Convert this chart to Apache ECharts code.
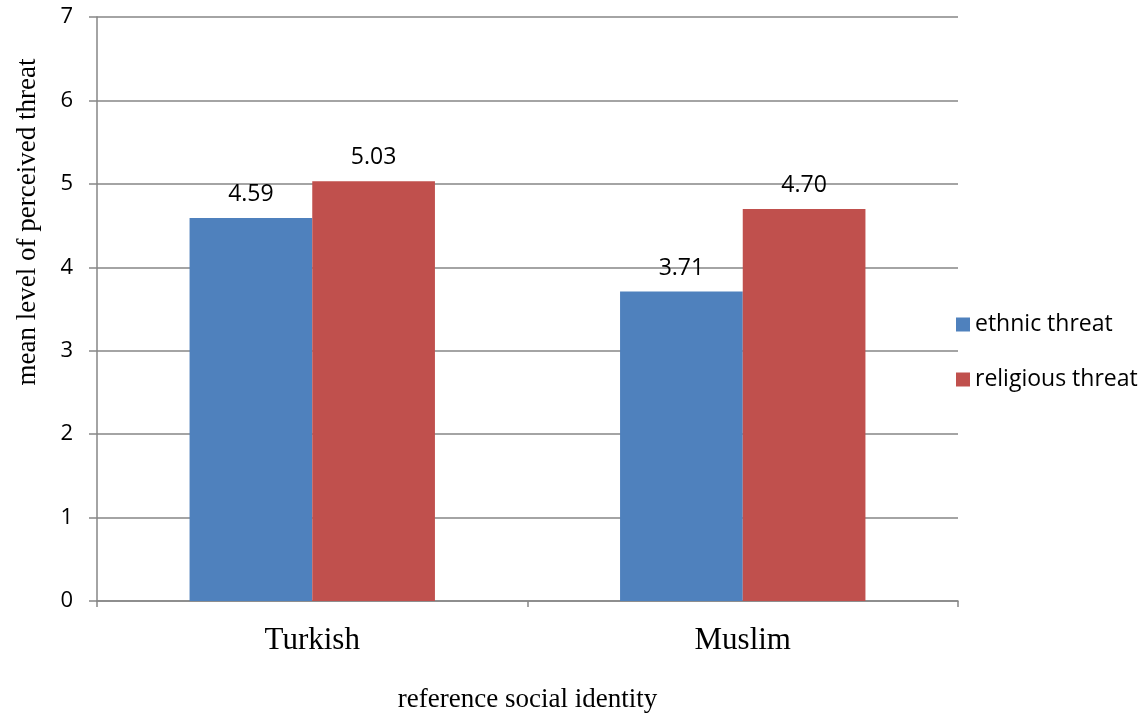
<!DOCTYPE html>
<html>
<head>
<meta charset="utf-8">
<script src="https://cdn.jsdelivr.net/npm/echarts@6/dist/echarts.min.js"></script>
<style>
  html, body { margin: 0; padding: 0; background: #fff; }
  #chart { width: 1148px; height: 717px; }
</style>
</head>
<body>
<div id="chart"></div>
<script>
// Mean perceived threat by reference social identity
const categories = ['Turkish', 'Muslim'];
const ethnicThreat = [4.59, 3.71];
const religiousThreat = [5.03, 4.70];
const yTicks = [0, 1, 2, 3, 4, 5, 6, 7];

const chart = echarts.init(document.getElementById('chart'));
const labelStyle = {
  show: true,
  position: 'top',
  distance: 12,
  color: '#000',
  fontFamily: 'Open Sans',
  fontSize: 23,
  formatter: p => p.value.toFixed(2)
};

chart.setOption({
  animation: false,
  grid: { left: 97, right: 190, top: 17, bottom: 116, outerBoundsMode: 'none' },
  legend: {
    orient: 'vertical',
    left: 951,
    top: 308,
    itemWidth: 14,
    itemHeight: 14,
    itemGap: 32,
    icon: 'rect',
    textStyle: { fontFamily: 'Open Sans', fontSize: 23, color: '#000' },
    data: ['ethnic threat', 'religious threat']
  },
  graphic: [{
    type: 'text',
    x: 28,
    y: 222,
    rotation: Math.PI / 2,
    style: {
      text: 'mean level of perceived threat',
      fontFamily: 'Liberation Serif',
      fontSize: 27,
      fill: '#000',
      textAlign: 'center',
      textVerticalAlign: 'middle'
    }
  }],
  xAxis: {
    type: 'category',
    data: categories,
    name: 'reference social identity',
    nameLocation: 'middle',
    nameGap: 85,
    nameTextStyle: { fontFamily: 'Liberation Serif', fontSize: 27, color: '#000' },
    axisLine: { lineStyle: { color: '#868686', width: 1.5 } },
    axisTick: { show: true, length: 6, lineStyle: { color: '#868686', width: 1.5 } },
    axisLabel: { margin: 24, fontFamily: 'Liberation Serif', fontSize: 31, color: '#000' }
  },
  yAxis: {
    type: 'value',
    min: 0,
    max: 7,
    interval: 1,
    axisLine: { show: true, lineStyle: { color: '#868686', width: 1.5 } },
    axisTick: { show: true, inside: false, length: 8, lineStyle: { color: '#868686', width: 1.5 } },
    axisLabel: {
      margin: 24,
      fontFamily: 'Open Sans',
      fontSize: 22,
      color: '#000',
      formatter: v => (yTicks.includes(v) ? String(v) : '')
    },
    splitLine: { show: true, lineStyle: { color: '#868686', width: 1.5 } }
  },
  series: [
    {
      name: 'ethnic threat',
      type: 'bar',
      data: ethnicThreat,
      barGap: '0%',
      barCategoryGap: '43%',
      itemStyle: { color: '#4F81BD' },
      label: labelStyle
    },
    {
      name: 'religious threat',
      type: 'bar',
      data: religiousThreat,
      itemStyle: { color: '#C0504D' },
      label: labelStyle
    }
  ]
});
</script>
</body>
</html>
